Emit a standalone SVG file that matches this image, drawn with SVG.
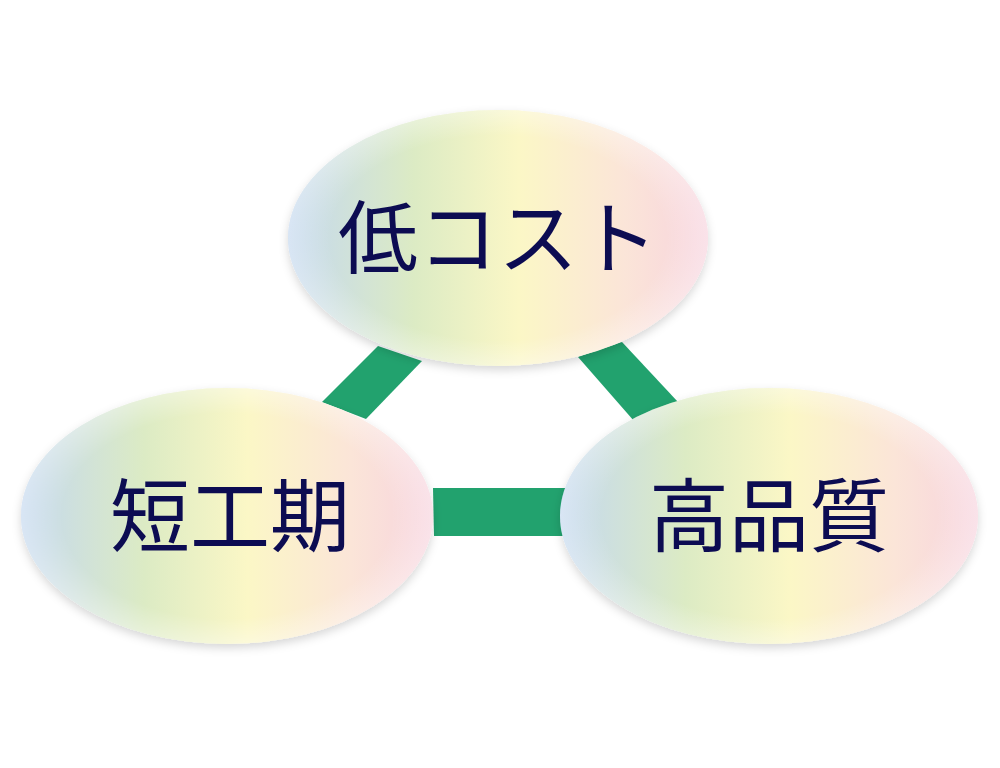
<svg xmlns="http://www.w3.org/2000/svg" width="1000" height="768" viewBox="0 0 1000 768">
<defs>
<linearGradient id="g" x1="0" y1="0" x2="1" y2="0">
<stop offset="0" stop-color="#c4d8ef"/>
<stop offset="0.3" stop-color="#dcebc4"/>
<stop offset="0.55" stop-color="#fbf7c6"/>
<stop offset="0.8" stop-color="#fbe5d8"/>
<stop offset="1" stop-color="#f7d3de"/>
</linearGradient>
<radialGradient id="rim" cx="0.5" cy="0.5" r="0.5">
<stop offset="0.8" stop-color="#fff" stop-opacity="0"/>
<stop offset="1" stop-color="#fff" stop-opacity="0.35"/>
</radialGradient>
<filter id="sh" x="-10%" y="-15%" width="120%" height="130%">
<feGaussianBlur in="SourceAlpha" stdDeviation="5"/>
<feOffset dx="0" dy="4" result="b"/>
<feFlood flood-color="#000" flood-opacity="0.16"/>
<feComposite in2="b" operator="in"/>
<feMerge><feMergeNode/><feMergeNode in="SourceGraphic"/></feMerge>
</filter>
<style>
.n{fill:url(#g);filter:url(#sh)}
.r{fill:url(#rim)}
.t{font-family:"Noto Sans CJK JP","Noto Sans",sans-serif;font-size:80px;fill:#0c0c52;text-anchor:middle}
.c{fill:#22a26e}
</style>
</defs>
<rect width="1000" height="768" fill="#fff"/>
<g id="connectors">
<polygon class="c" points="378,346 422,361 366,419 322,402"/>
<polygon class="c" points="578,357 622,342 678,402 634,421"/>
<polygon class="c" points="433,488 567,488 566,536 434,536"/>
</g>
<g id="node-top">
<ellipse class="n" cx="498" cy="238" rx="210" ry="128"/>
<ellipse class="r" cx="498" cy="238" rx="210" ry="128"/>
<text class="t" x="498" y="267">低コスト</text>
</g>
<g id="node-left">
<ellipse class="n" cx="227" cy="516" rx="206" ry="128"/>
<ellipse class="r" cx="227" cy="516" rx="206" ry="128"/>
<text class="t" x="230" y="545">短工期</text>
</g>
<g id="node-right">
<ellipse class="n" cx="769" cy="516" rx="209" ry="128"/>
<ellipse class="r" cx="769" cy="516" rx="209" ry="128"/>
<text class="t" x="769" y="545">高品質</text>
</g>
</svg>
